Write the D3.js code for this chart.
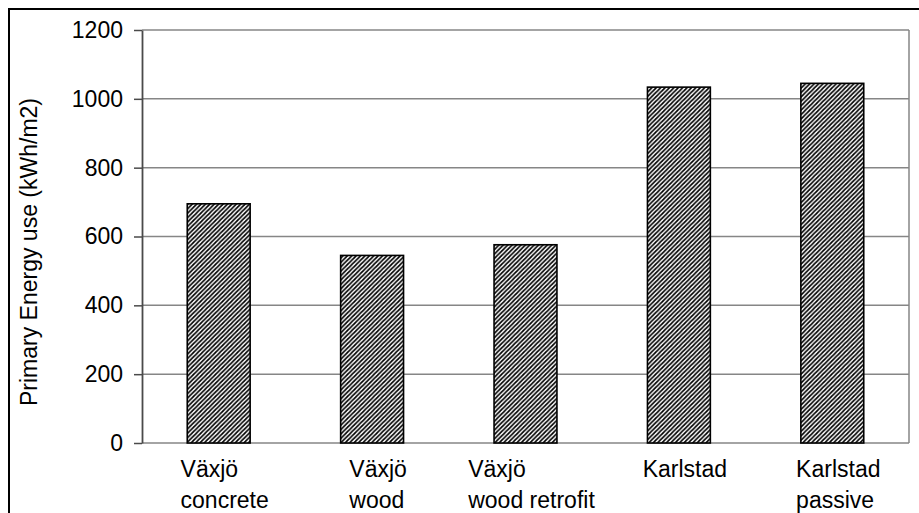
<!DOCTYPE html>
<html>
<head>
<meta charset="utf-8">
<script src="https://cdn.jsdelivr.net/npm/d3@7"></script>
<style>
  body { margin: 0; background: #fff; }
  svg { display: block; font-family: "Liberation Sans", Arial, sans-serif; }
</style>
</head>
<body>
<svg id="chart" width="919" height="513"></svg>
<script>
// categories, each label split into its two rows
const categories = ['Växjö concrete', 'Växjö wood', 'Växjö wood retrofit', 'Karlstad', 'Karlstad passive']
const labelLines = [['Växjö', 'concrete'], ['Växjö', 'wood'], ['Växjö', 'wood retrofit'], ['Karlstad'], ['Karlstad', 'passive']]
const energy = [695, 545, 576, 1034, 1045]
const yTicks = [0, 200, 400, 600, 800, 1000, 1200]

const svg = d3.select('#chart')
const W = 919, H = 513
const m = {top: 30, right: 10, bottom: 70, left: 142}
const plotW = W - m.left - m.right
const plotH = H - m.top - m.bottom
const FS = 23

// outer frame (right/bottom edges fall outside the picture)
svg.append('rect')
    .attr('x', 9).attr('y', 9)
    .attr('width', W + 10).attr('height', H + 10)
    .attr('fill', 'none').attr('stroke', '#000').attr('stroke-width', 2)

// hatch
const defs = svg.append('defs')
const pat = defs.append('pattern')
    .attr('id', 'hatch')
    .attr('patternUnits', 'userSpaceOnUse')
    .attr('width', 4.4).attr('height', 4.4)
pat.append('rect').attr('width', 4.4).attr('height', 4.4).attr('fill', '#fff')
pat.append('path')
    .attr('d', 'M0,4.4 L4.4,0 M-1.1,1.1 L1.1,-1.1 M3.3,5.5 L5.5,3.3')
    .attr('stroke', '#000').attr('stroke-width', 1.7)

const g = svg.append('g').attr('transform', `translate(${m.left},${m.top})`)

const x = d3.scaleBand()
    .domain(categories)
    .range([0, plotW])
    .paddingInner(0.59)
    .paddingOuter(0.295)

const y = d3.scaleLinear().domain([0, 1200]).range([plotH, 0])

// gridlines
g.append('g')
  .selectAll('line')
  .data(yTicks.slice(1))
  .join('line')
    .attr('x1', 0).attr('x2', plotW)
    .attr('y1', d => y(d)).attr('y2', d => y(d))
    .attr('stroke', '#868686').attr('stroke-width', 1.5)

// plot right edge and bottom
g.append('line')
    .attr('x1', plotW).attr('x2', plotW).attr('y1', 0).attr('y2', plotH)
    .attr('stroke', '#868686').attr('stroke-width', 1.5)
g.append('line')
    .attr('x1', 0).attr('x2', plotW).attr('y1', plotH).attr('y2', plotH)
    .attr('stroke', '#868686').attr('stroke-width', 1.5)

// bars
g.append('g')
  .selectAll('rect')
  .data(energy)
  .join('rect')
    .attr('x', (d, i) => x(categories[i]))
    .attr('y', d => y(d))
    .attr('width', x.bandwidth())
    .attr('height', d => plotH - y(d))
    .attr('fill', 'url(#hatch)')
    .attr('stroke', '#000').attr('stroke-width', 1.6)

// y axis
const yAxis = g.append('g')
    .attr('font-size', FS)
    .attr('font-family', '"Liberation Sans", Arial, sans-serif')
    .call(d3.axisLeft(y).tickValues(yTicks).tickFormat(d3.format('d'))
        .tickSize(8).tickPadding(11).tickSizeOuter(0))
yAxis.attr('font-size', FS).attr('font-family', '"Liberation Sans", Arial, sans-serif')
yAxis.select('.domain').attr('stroke', '#4a4a4a').attr('stroke-width', 1.8)
yAxis.selectAll('.tick line').attr('stroke', '#4a4a4a').attr('stroke-width', 1.5)
yAxis.selectAll('.tick text').attr('fill', '#000')

// x labels: left-aligned rows, block centred under the bar
const lab = g.append('g')
  .selectAll('text')
  .data(labelLines)
  .join('text')
    .attr('font-size', FS).attr('fill', '#000')
lab.selectAll('tspan')
  .data(d => d)
  .join('tspan')
    .attr('dy', (d, i) => i ? 31 : 0)
    .text(d => d)
lab.each(function(d, i) {
  const t = d3.select(this)
  const wMax = d3.max(t.selectAll('tspan').nodes(), n => n.getComputedTextLength())
  const cx = x(categories[i]) + x.bandwidth() / 2
  const left = cx - wMax / 2 + 6
  t.selectAll('tspan').attr('x', left)
  t.attr('y', 477 - m.top)
})

// y title
svg.append('text')
    .attr('transform', 'translate(37,252) rotate(-90)')
    .attr('text-anchor', 'middle')
    .attr('font-size', FS)
    .text('Primary Energy use (kWh/m2)')
</script>
</body>
</html>
